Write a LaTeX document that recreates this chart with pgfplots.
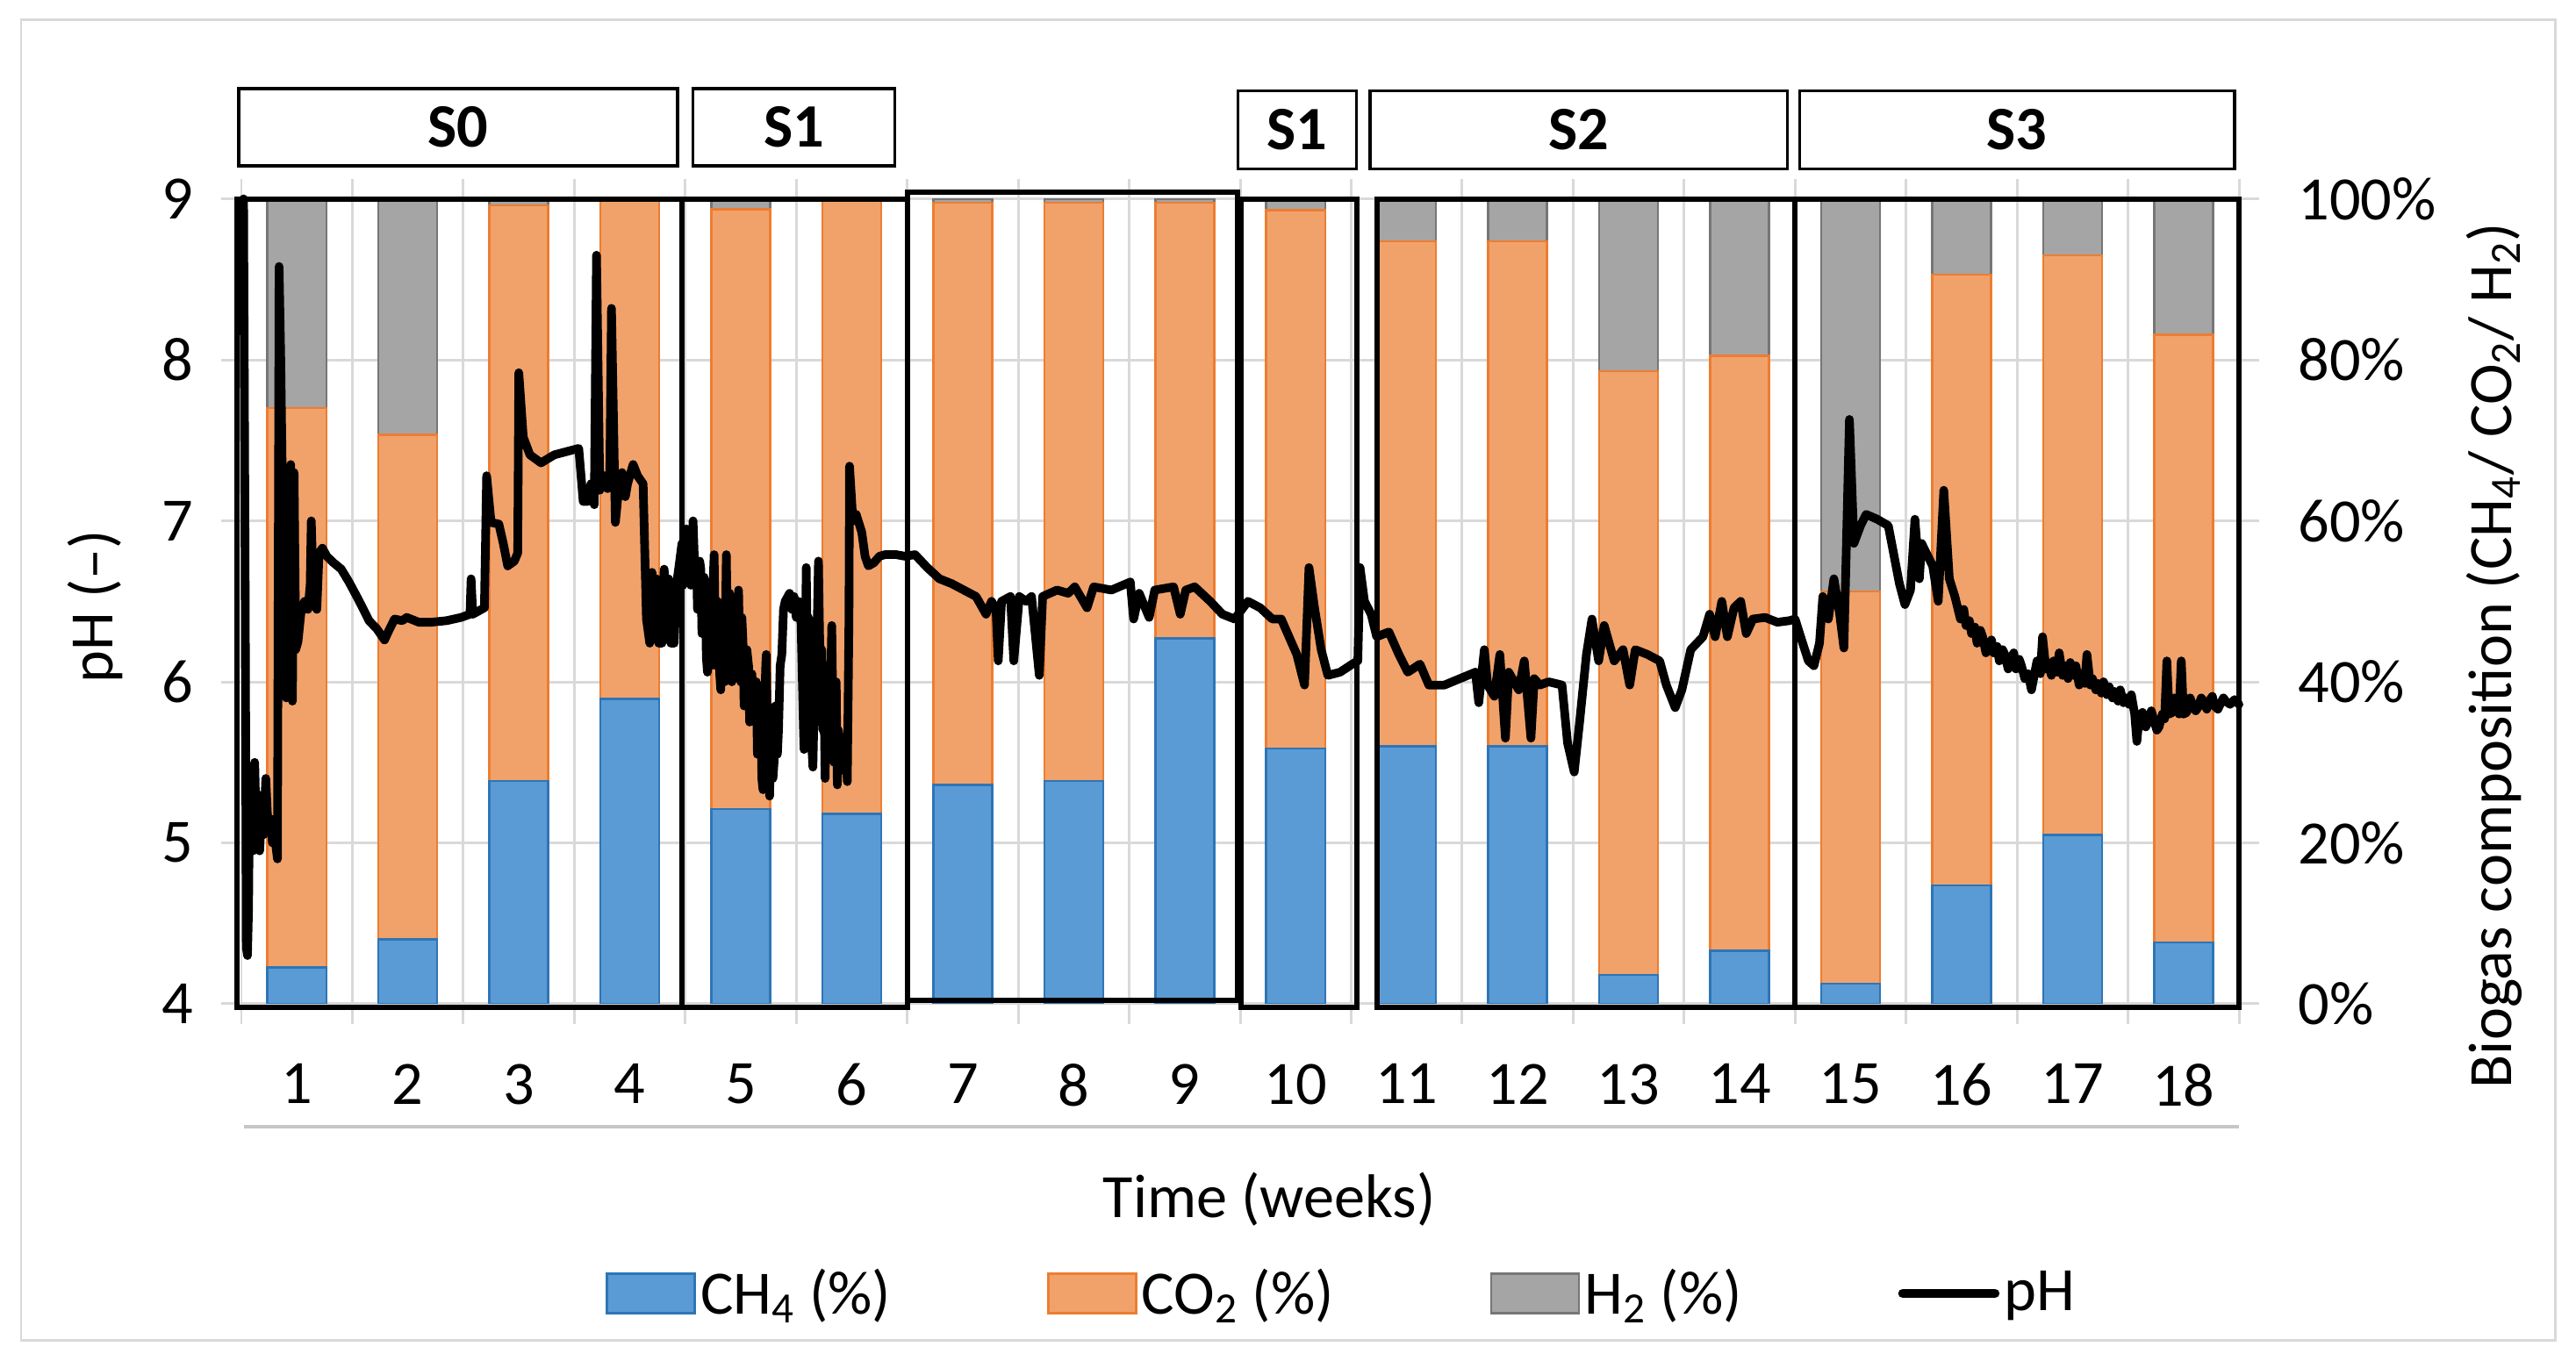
\documentclass[border=0pt]{standalone}
\usepackage{fontspec}
\setmainfont{Carlito}
\usepackage{pgfplots}
\pgfplotsset{compat=1.18}
\usepackage{pgfplotstable}
\definecolor{cblue}{HTML}{5B9BD5}
\definecolor{cblueE}{HTML}{2E75B6}
\definecolor{corange}{HTML}{F1A26B}
\definecolor{corangeE}{HTML}{ED7D31}
\definecolor{cgray}{HTML}{A5A5A5}
\definecolor{cgrayE}{HTML}{767676}
\definecolor{gridc}{HTML}{D9D9D9}
\definecolor{framec}{HTML}{D9D9D9}
\newcommand{\cf}{\fontsize{20}{24}\selectfont}

\pgfplotstableread{
wk ch4 co2 h2
1 4.5 69.5 26.0
2 8.0 62.7 29.3
3 27.7 71.5 0.8
4 37.9 62.1 0.0
5 24.2 74.5 1.3
6 23.6 76.4 0.0
7 27.2 72.3 0.5
8 27.7 71.8 0.5
9 45.4 54.1 0.5
10 31.7 66.9 1.4
11 32.0 62.7 5.3
12 32.0 62.7 5.3
13 3.6 75.0 21.4
14 6.6 73.9 19.5
15 2.5 48.7 48.8
16 14.7 75.9 9.4
17 21.0 72.0 7.0
18 7.6 75.5 16.9
}\gas

\begin{document}
\begin{tikzpicture}
\useasboundingbox (0,0) rectangle (293.5mm,155.1mm);
\draw[framec, line width=0.85pt] (2.4mm,2.3mm) rectangle (291.1mm,152.8mm);

\begin{axis}[
  at={(27.5mm,40.7mm)}, anchor=south west,
  scale only axis, width=227.6mm, height=91.74mm,
  xmin=0.5, xmax=18.5, ymin=0, ymax=100,
  ybar stacked, bar width=0.53,
  xtick={0.5,1.5,...,18.5}, xticklabels={},
  extra x ticks={1,2,...,18},
  extra x tick labels={1,2,3,4,5,6,7,8,9,10,11,12,13,14,15,16,17,18},
  extra x tick style={major tick length=0pt, grid=none},
  xmajorgrids=true, ymajorgrids=true,
  grid style={gridc, line width=0.85pt},
  ytick={0,20,...,100}, yticklabels={0\%,20\%,40\%,60\%,80\%,100\%},
  ytick pos=right, yticklabel pos=right, xtick pos=both, xticklabel pos=lower,
  tick align=outside, major tick length=6.5pt,
  tick style={gridc, line width=0.85pt},
  axis line style={gridc, line width=0.85pt},
  tick label style={font=\cf},
  /pgf/number format/assume math mode=true,
  xticklabel style={anchor=north, inner sep=0pt, yshift=-19.3pt},
  yticklabel style={anchor=west, inner sep=0pt, xshift=12.5pt},
]
\addplot[fill=cblue, draw=cblueE, line width=0.7pt] table[x=wk, y=ch4] {\gas};
\addplot[fill=corange, draw=corangeE, line width=0.7pt] table[x=wk, y=co2] {\gas};
\addplot[fill=cgray, draw=cgrayE, line width=0.7pt] table[x=wk, y=h2] {\gas};
\end{axis}

\begin{axis}[
  at={(27.5mm,40.7mm)}, anchor=south west,
  scale only axis, width=227.6mm, height=91.74mm,
  xmin=0.5, xmax=18.5, ymin=4, ymax=9,
  xtick=\empty, ytick={4,5,...,9},
  ytick pos=left, yticklabel pos=left,
  tick align=outside, major tick length=6.5pt,
  tick style={gridc, line width=0.85pt},
  axis line style={draw=none},
  tick label style={font=\cf},
  /pgf/number format/assume math mode=true,
  yticklabel style={anchor=east, inner sep=0pt, xshift=-8.9pt},
  clip=false,
  legend style={at={(0.1822,-0.3597)}, anchor=west, draw=none, fill=none,
    inner sep=0pt, legend columns=4, font=\cf,
    /tikz/every even column/.append style={column sep=17.3mm},
    nodes={inner sep=0.5mm}},
]
\addlegendimage{legend image code/.code={\draw[fill=cblue,draw=cblueE,line width=0.8pt] (0mm,-2.25mm) rectangle (10mm,2.25mm);}}
\addlegendimage{legend image code/.code={\draw[fill=corange,draw=corangeE,line width=0.8pt] (0mm,-2.25mm) rectangle (10mm,2.25mm);}}
\addlegendimage{legend image code/.code={\draw[fill=cgray,draw=cgrayE,line width=0.8pt] (0mm,-2.25mm) rectangle (10mm,2.25mm);}}
\addplot[black, line width=2.8pt, line join=round, line cap=round,
  legend image code/.code={\draw[black,line width=3pt] (0mm,0mm) -- (10.5mm,0mm);}]
coordinates {
(0.52,9.00)(0.535,6.5)(0.545,4.35)(0.555,4.30)(0.565,4.60)(0.575,5.45)(0.585,5.00)(0.595,5.40)
(0.605,4.95)(0.62,5.50)(0.635,5.05)(0.65,5.30)(0.665,4.95)(0.68,5.20)(0.70,5.05)(0.72,5.40)
(0.74,5.10)(0.76,5.15)(0.78,5.00)(0.80,5.05)(0.825,4.90)(0.84,8.58)(0.855,8.00)(0.87,7.20)
(0.885,6.20)(0.895,6.90)(0.905,5.90)(0.915,7.30)(0.93,6.30)(0.945,7.35)(0.96,5.88)(0.975,7.30)
(0.99,6.20)(1.01,6.25)(1.04,6.45)(1.07,6.50)(1.10,6.45)(1.12,6.60)(1.13,7.00)(1.15,6.50)
(1.18,6.45)(1.20,6.80)(1.23,6.83)(1.27,6.78)(1.33,6.74)(1.40,6.70)(1.47,6.62)(1.54,6.53)
(1.60,6.45)(1.65,6.38)(1.72,6.33)(1.79,6.26)(1.83,6.32)(1.88,6.39)(1.95,6.38)(1.99,6.40)
(2.10,6.37)(2.21,6.37)(2.35,6.38)(2.48,6.40)(2.56,6.42)(2.57,6.64)(2.585,6.42)(2.69,6.46)
(2.71,7.28)(2.75,6.99)(2.82,6.98)(2.86,6.86)(2.90,6.72)(2.96,6.75)(2.99,6.80)(3.00,7.92)
(3.04,7.52)(3.10,7.41)(3.20,7.36)(3.32,7.41)(3.54,7.45)(3.58,7.12)(3.62,7.12)(3.65,7.23)
(3.68,7.10)(3.70,8.65)(3.73,7.19)(3.77,7.28)(3.80,7.20)(3.82,7.30)(3.835,8.32)(3.87,6.99)
(3.90,7.20)(3.93,7.30)(3.96,7.15)(3.98,7.23)(4.03,7.35)(4.07,7.28)(4.12,7.23)(4.15,6.39)
(4.18,6.24)(4.20,6.68)(4.22,6.30)(4.24,6.64)(4.26,6.24)(4.29,6.24)(4.31,6.70)(4.33,6.30)
(4.35,6.64)(4.37,6.24)(4.40,6.24)(4.42,6.60)(4.44,6.70)
(4.47,6.86)(4.48,6.60)(4.495,6.68)(4.51,6.95)(4.52,6.70)(4.535,6.85)(4.55,6.60)(4.565,6.90)
(4.57,7.00)(4.585,6.70)(4.60,6.75)(4.61,6.45)(4.62,6.50)(4.63,6.75)(4.64,6.70)(4.65,6.30)
(4.66,6.35)(4.67,6.65)(4.68,6.55)(4.69,6.15)(4.70,6.06)(4.71,6.50)(4.72,6.40)(4.73,6.10)
(4.74,6.20)(4.75,6.60)(4.76,6.79)(4.77,6.30)(4.78,6.10)(4.79,6.50)(4.80,6.45)(4.81,6.05)
(4.82,5.95)(4.83,6.30)(4.84,6.40)(4.855,6.00)(4.87,6.79)(4.88,6.30)(4.89,6.10)(4.90,6.55)
(4.91,6.40)(4.92,6.00)(4.93,6.06)(4.945,6.50)(4.96,6.30)(4.97,6.10)(4.98,6.57)(4.99,6.20)
(5.00,6.00)(5.01,6.40)(5.02,6.25)(5.03,5.85)(5.04,5.91)(5.055,6.20)(5.07,6.10)(5.08,5.75)
(5.09,5.80)(5.10,6.05)(5.12,5.77)(5.13,5.95)(5.14,6.00)(5.15,5.55)(5.16,5.60)(5.17,5.95)
(5.18,5.90)(5.19,5.40)(5.20,5.33)(5.21,5.75)(5.225,6.10)(5.23,6.17)(5.24,5.60)(5.255,5.35)
(5.26,5.29)(5.27,5.70)(5.28,5.60)(5.29,5.40)(5.30,5.50)(5.31,5.85)(5.32,5.80)(5.33,5.55)
(5.34,5.70)(5.355,6.10)(5.37,6.17)(5.385,6.45)(5.40,6.50)(5.44,6.55)(5.46,6.45)(5.48,6.53)
(5.50,6.40)(5.52,6.50)(5.54,6.45)(5.555,6.00)(5.565,5.70)(5.57,5.58)(5.58,6.00)(5.59,6.71)
(5.60,6.20)(5.61,6.40)(5.62,5.90)(5.63,6.10)(5.64,5.60)(5.65,5.47)(5.66,5.80)(5.67,6.00)
(5.68,5.75)(5.69,6.40)(5.70,6.75)(5.71,6.30)(5.72,6.00)(5.73,6.20)(5.74,5.70)(5.75,5.90)
(5.76,5.40)(5.77,5.80)(5.78,6.10)(5.79,5.75)(5.80,5.60)(5.81,6.00)(5.82,6.35)(5.83,5.80)
(5.84,5.50)(5.85,5.80)(5.86,6.00)(5.865,5.60)(5.87,5.36)(5.88,5.70)(5.90,5.60)(5.91,5.45)
(5.93,5.47)(5.94,5.65)(5.96,5.38)(5.975,6.40)(5.98,7.34)(6.01,7.00)(6.04,7.04)(6.09,6.93)
(6.12,6.78)(6.15,6.72)(6.20,6.74)(6.25,6.78)(6.30,6.79)(6.40,6.79)(6.48,6.78)(6.57,6.79)
(6.68,6.71)(6.79,6.64)(6.90,6.61)(7.01,6.57)(7.12,6.53)(7.21,6.42)(7.26,6.50)(7.30,6.45)
(7.32,6.13)(7.35,6.50)(7.43,6.53)(7.46,6.13)(7.51,6.53)(7.57,6.50)(7.62,6.53)(7.69,6.04)
(7.72,6.53)(7.85,6.57)(7.95,6.55)(8.01,6.59)(8.12,6.46)(8.18,6.59)(8.34,6.57)(8.51,6.62)
(8.54,6.39)(8.59,6.55)(8.68,6.40)(8.73,6.57)(8.90,6.59)(8.96,6.42)(9.01,6.57)(9.09,6.59)
(9.23,6.50)(9.34,6.42)(9.45,6.39)(9.57,6.50)(9.68,6.46)(9.79,6.39)(9.87,6.39)(10.01,6.17)
(10.08,5.98)(10.12,6.71)(10.17,6.46)(10.23,6.20)(10.29,6.04)(10.40,6.06)(10.51,6.11)(10.56,6.13)
(10.58,6.71)(10.62,6.50)(10.68,6.42)(10.73,6.28)(10.84,6.31)(10.93,6.17)(11.01,6.06)(11.12,6.11)
(11.20,5.98)(11.34,5.98)(11.48,6.02)(11.62,6.06)(11.65,5.87)(11.70,6.20)(11.73,5.98)(11.79,5.91)
(11.84,6.17)(11.89,5.65)(11.92,6.06)(12.01,5.95)(12.06,6.13)(12.12,5.65)(12.15,6.02)(12.20,5.98)
(12.28,6.00)(12.40,5.98)(12.45,5.62)(12.51,5.44)(12.56,5.76)(12.62,6.17)(12.67,6.39)(12.73,6.13)
(12.78,6.35)(12.87,6.13)(12.95,6.20)(13.01,5.98)(13.06,6.20)(13.17,6.17)(13.28,6.13)(13.34,5.98)
(13.42,5.84)(13.48,5.95)(13.56,6.20)(13.67,6.28)(13.73,6.42)(13.78,6.28)(13.84,6.50)(13.89,6.28)
(13.95,6.46)(14.01,6.50)(14.06,6.30)(14.12,6.39)(14.23,6.40)(14.34,6.37)(14.45,6.38)(14.50,6.39)
(14.55,6.28)(14.62,6.13)(14.67,6.10)(14.72,6.24)(14.75,6.53)(14.80,6.39)(14.85,6.64)(14.90,6.43)
(14.94,6.21)(14.99,7.63)(15.03,6.86)(15.09,6.97)(15.14,7.04)(15.24,7.01)(15.34,6.97)(15.39,6.79)
(15.44,6.61)(15.49,6.48)(15.54,6.57)(15.58,7.01)(15.62,6.64)(15.64,6.86)(15.74,6.72)(15.79,6.50)
(15.84,7.19)(15.89,6.64)(15.94,6.53)(15.99,6.39)(16.02,6.45)(16.04,6.35)(16.07,6.38)(16.09,6.30)
(16.12,6.34)(16.14,6.24)(16.17,6.32)(16.19,6.28)(16.22,6.18)(16.24,6.21)(16.27,6.26)(16.29,6.18)
(16.32,6.22)(16.34,6.13)(16.37,6.20)(16.39,6.17)(16.42,6.08)(16.44,6.13)(16.47,6.18)(16.49,6.08)
(16.52,6.14)(16.54,6.10)(16.57,6.02)(16.60,6.05)(16.63,5.95)(16.68,6.13)(16.71,6.05)(16.73,6.28)
(16.76,6.08)(16.78,6.12)(16.81,6.04)(16.83,6.13)(16.86,6.06)(16.88,6.18)(16.91,6.04)(16.93,6.10)
(16.96,6.02)(16.98,6.12)(17.01,6.04)(17.03,6.10)(17.06,5.98)(17.08,6.05)(17.11,5.99)(17.13,6.17)
(17.16,5.98)(17.18,6.02)(17.21,5.95)(17.23,5.99)(17.26,5.93)(17.28,6.00)(17.31,5.92)(17.33,5.97)
(17.36,5.90)(17.38,5.94)(17.41,5.88)(17.43,5.95)(17.46,5.87)(17.48,5.90)(17.51,5.86)(17.53,5.92)
(17.56,5.80)(17.58,5.63)(17.60,5.78)(17.63,5.81)(17.66,5.72)(17.68,5.75)(17.71,5.82)(17.73,5.77)
(17.76,5.70)(17.78,5.72)(17.81,5.80)(17.83,5.77)(17.85,6.13)(17.87,5.80)(17.90,5.81)(17.92,5.90)
(17.94,5.85)(17.96,5.80)(17.98,6.13)(18.00,5.80)(18.03,5.81)(18.06,5.90)(18.08,5.86)(18.11,5.82)
(18.13,5.84)(18.16,5.90)(18.18,5.88)(18.21,5.83)(18.23,5.88)(18.26,5.91)(18.28,5.85)(18.31,5.83)
(18.33,5.86)(18.36,5.90)(18.38,5.88)(18.42,5.86)(18.46,5.89)(18.50,5.86)
};
\legend{CH\textsubscript{4} (\%), CO\textsubscript{2} (\%), H\textsubscript{2} (\%), pH}
% stage boxes in the plot area
\draw[line width=1.7pt] (axis cs:0.46,3.98) rectangle (axis cs:4.47,9.0);
\draw[line width=1.7pt] (axis cs:4.47,3.98) rectangle (axis cs:6.5,9.0);
\draw[line width=1.7pt] (axis cs:6.5,4.02) rectangle (axis cs:9.48,9.04);
\draw[line width=1.7pt] (axis cs:9.51,3.98) rectangle (axis cs:10.55,9.0);
\draw[line width=1.7pt] (axis cs:10.73,3.98) rectangle (axis cs:14.5,9.0);
\draw[line width=1.7pt] (axis cs:14.5,3.98) rectangle (axis cs:18.5,9.0);
% stage labels
\draw[line width=0.9pt, fill=white] (axis cs:0.476,9.205) rectangle (axis cs:4.43,9.684);
\draw[line width=0.9pt, fill=white] (axis cs:4.57,9.205) rectangle (axis cs:6.39,9.684);
\draw[line width=0.9pt, fill=white] (axis cs:9.48,9.185) rectangle (axis cs:10.55,9.67);
\draw[line width=0.9pt, fill=white] (axis cs:10.67,9.185) rectangle (axis cs:14.43,9.67);
\draw[line width=0.9pt, fill=white] (axis cs:14.54,9.185) rectangle (axis cs:18.46,9.67);
\node[font=\cf\bfseries] at (axis cs:2.453,9.445) {S0};
\node[font=\cf\bfseries] at (axis cs:5.48,9.445) {S1};
\node[font=\cf\bfseries] at (axis cs:10.015,9.43) {S1};
\node[font=\cf\bfseries] at (axis cs:12.55,9.43) {S2};
\node[font=\cf\bfseries] at (axis cs:16.5,9.43) {S3};
\end{axis}

\draw[color=gray!45, line width=1.1pt] (27.75mm,26.7mm) -- (255.1mm,26.7mm);
\node[rotate=90, anchor=base, font=\cf] at (12.8mm,86.0mm) {pH (–)};
\node[rotate=90, anchor=base, font=\cf] at (286.1mm,80.4mm) {Biogas composition (CH\textsubscript{4}/ CO\textsubscript{2}/ H\textsubscript{2})};
\node[anchor=base, font=\cf] at (144.6mm,16.3mm) {Time (weeks)};
\end{tikzpicture}
\end{document}
